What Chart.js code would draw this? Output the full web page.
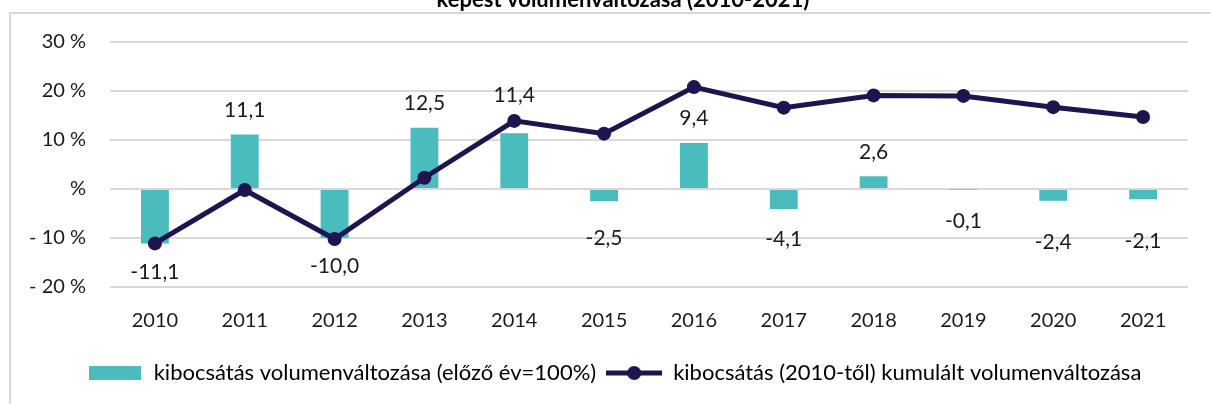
<!DOCTYPE html>
<html>
<head>
<meta charset="utf-8">
<script src="https://cdn.jsdelivr.net/npm/chart.js@4"></script>
<style>
  html, body { margin: 0; padding: 0; background: #fff; }
  #wrap { position: relative; width: 1211px; height: 404px; overflow: hidden; }
</style>
</head>
<body>
<div id="wrap"><canvas id="chart"></canvas></div>
<script>
  const years = ["2010","2011","2012","2013","2014","2015","2016","2017","2018","2019","2020","2021"];
  // yearly volume change vs previous year (%)
  const yearlyChange = [-11.1, 11.1, -10.0, 12.5, 11.4, -2.5, 9.4, -4.1, 2.6, -0.1, -2.4, -2.1];
  // cumulative change since 2010 (%)
  const cumulative = [-11.1, -0.2, -10.2, 2.3, 13.9, 11.3, 20.8, 16.6, 19.1, 19.0, 16.7, 14.7];
  const yTicks = [-20, -10, 0, 10, 20, 30];
  const barLabel = "kibocsátás volumenváltozása (előző év=100%)";
  const lineLabel = "kibocsátás (2010-től) kumulált volumenváltozása";
  const titleText = "képest volumenváltozása (2010-2021)";

  const TEAL = "#4ABCBD";
  const NAVY = "#1E1550";
  const FONT = "Lato";
  const TXT = "#1a1a1a";
  // small pixel nudges so labels clear the line, as in the original
  const labelNudge = [0, 0, 0, 0, -13, 8, 0, 2, 0, 3, 13, 13];

  // legend icons
  const barIcon = document.createElement("canvas");
  barIcon.width = 52; barIcon.height = 14;
  let c = barIcon.getContext("2d");
  c.fillStyle = TEAL;
  c.fillRect(0, 0, 52, 14);

  const lineIcon = document.createElement("canvas");
  lineIcon.width = 56; lineIcon.height = 16;
  c = lineIcon.getContext("2d");
  c.strokeStyle = NAVY; c.lineWidth = 5;
  c.beginPath(); c.moveTo(0, 8); c.lineTo(56, 8); c.stroke();
  c.fillStyle = NAVY;
  c.beginPath(); c.arc(28, 8, 7, 0, Math.PI * 2); c.fill();

  const fmt = v => v.toFixed(1).replace(".", ",");

  // frame + clipped title
  const framePlugin = {
    id: "frame",
    beforeDraw(chart) {
      const ctx = chart.ctx;
      ctx.save();
      ctx.strokeStyle = "#D9D9D9";
      ctx.lineWidth = 2;
      ctx.beginPath();
      ctx.moveTo(10, chart.height);
      ctx.lineTo(10, 13);
      ctx.lineTo(chart.width, 13);
      ctx.stroke();
      ctx.fillStyle = "#000";
      ctx.font = "bold 22px " + FONT;
      ctx.textAlign = "center";
      ctx.textBaseline = "alphabetic";
      ctx.fillText(titleText, 623, 7);
      ctx.restore();
    }
  };

  // value labels for the bars
  const labelPlugin = {
    id: "barLabels",
    afterDatasetsDraw(chart) {
      const ctx = chart.ctx;
      const meta = chart.getDatasetMeta(0);
      ctx.save();
      ctx.font = "21px " + FONT;
      ctx.fillStyle = TXT;
      ctx.textAlign = "center";
      meta.data.forEach((el, i) => {
        const v = yearlyChange[i];
        if (v >= 0) {
          ctx.textBaseline = "bottom";
          ctx.fillText(fmt(v), el.x, el.y - 14 + labelNudge[i]);
        } else {
          ctx.textBaseline = "top";
          ctx.fillText(fmt(v), el.x, el.y + 18 + labelNudge[i]);
        }
      });
      ctx.restore();
    }
  };

  // fixed legend box height, legend nudged right like the original
  const legendFit = {
    id: "legendFit",
    beforeUpdate(chart) {
      const lg = chart.legend;
      if (lg && !lg._patched) {
        const fit = lg.fit;
        lg.fit = function () { fit.call(this); this.height = 52; };
        lg._patched = true;
      }
    },
    afterLayout(chart) {
      chart.legend.left += 15;
      chart.legend.right += 15;
    }
  };

  new Chart(document.getElementById("chart"), {
    type: "bar",
    data: {
      labels: years,
      datasets: [
        {
          type: "bar",
          label: barLabel,
          data: yearlyChange,
          backgroundColor: TEAL,
          barPercentage: 0.31,
          categoryPercentage: 1,
          order: 2
        },
        {
          type: "line",
          label: lineLabel,
          data: cumulative,
          borderColor: NAVY,
          backgroundColor: NAVY,
          borderWidth: 5,
          pointRadius: 7,
          pointBackgroundColor: NAVY,
          pointBorderWidth: 0,
          tension: 0,
          order: 1
        }
      ]
    },
    options: {
      responsive: true,
      maintainAspectRatio: false,
      animation: false,
      layout: { padding: { top: 42, left: 10, right: 23, bottom: 0 } },
      scales: {
        x: {
          grid: { display: false },
          border: { display: false },
          ticks: { color: TXT, font: { family: FONT, size: 20 }, padding: 14 },
          afterFit(s) { s.height = 65; }
        },
        y: {
          min: -20,
          max: 30,
          afterBuildTicks(s) { s.ticks = yTicks.map(v => ({ value: v })); },
          grid: { color: "#D9D9D9", lineWidth: 2, drawTicks: false },
          border: { display: false },
          ticks: {
            color: TXT,
            font: { family: FONT, size: 20 },
            padding: 24,
            callback: v => v === 0 ? "%" : (v < 0 ? "- " + (-v) + " %" : v + " %")
          },
          afterFit(s) { s.width = 100; }
        }
      },
      plugins: {
        tooltip: { enabled: false },
        legend: {
          position: "bottom",
          labels: {
            usePointStyle: true,
            pointStyleWidth: 56,
            boxHeight: 16,
            padding: 10,
            color: TXT,
            font: { family: FONT, size: 22 },
            generateLabels: () => [
              { text: barLabel, pointStyle: barIcon, fillStyle: TEAL, strokeStyle: TEAL, lineWidth: 0, datasetIndex: 0, hidden: false },
              { text: lineLabel, pointStyle: lineIcon, fillStyle: NAVY, strokeStyle: NAVY, lineWidth: 0, datasetIndex: 1, hidden: false }
            ]
          }
        }
      }
    },
    plugins: [framePlugin, labelPlugin, legendFit]
  });
</script>
</body>
</html>
